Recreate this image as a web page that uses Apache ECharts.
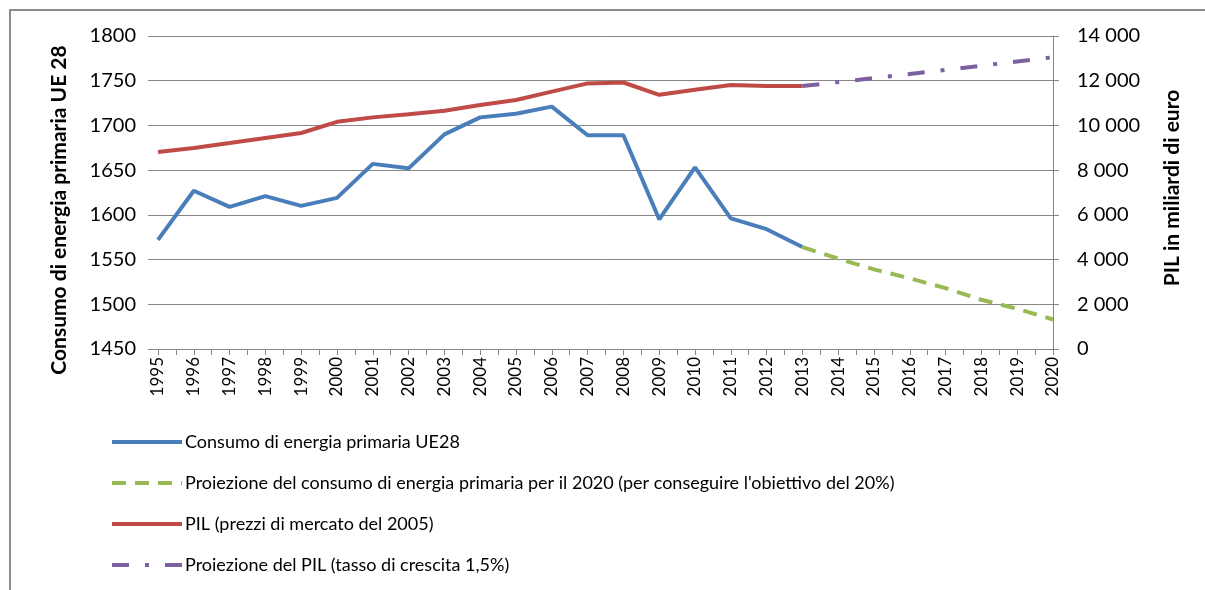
<!DOCTYPE html>
<html>
<head>
<meta charset="utf-8">
<script src="https://cdn.jsdelivr.net/npm/echarts@6/dist/echarts.min.js"></script>
<style>
	html, body { margin: 0; padding: 0; background: #fff; }
	#chart { width: 1205px; height: 590px; }
</style>
</head>
<body>
<div id="chart"></div>
<script>
// anni
var years = ['1995','1996','1997','1998','1999','2000','2001','2002','2003','2004','2005','2006','2007','2008','2009','2010','2011','2012','2013','2014','2015','2016','2017','2018','2019','2020'];

// consumo di energia primaria UE28 (Mtep)
var energia = [1572,1627,1609,1621,1610,1619,1657,1652,1690,1709,1713,1721,1689,1689,1595,1653,1596,1584,1564,null,null,null,null,null,null,null];
// proiezione al 2020
var energiaProj = [null,null,null,null,null,null,null,null,null,null,null,null,null,null,null,null,null,null,1564,1551,1539,1529,1518,1505,1495,1483];

// PIL (miliardi di euro, prezzi 2005)
var pil = [8810,8990,9210,9440,9660,10160,10360,10500,10660,10910,11140,11510,11880,11920,11370,11600,11810,11760,11760,null,null,null,null,null,null,null];
// proiezione PIL 1,5%
var pilProj = [null,null,null,null,null,null,null,null,null,null,null,null,null,null,null,null,null,null,11760,11940,12120,12300,12480,12670,12860,13050];

var leftTicks = [1450, 1800, 50];
var rightTicks = [0, 14000, 2000];

var FONT = 'Lato, "Liberation Sans", sans-serif';

var chart = echarts.init(document.getElementById('chart'));

var option = {
	animation: false,
	backgroundColor: '#fff',
	textStyle: { fontFamily: FONT },
	grid: { left: 158, right: 152, top: 36, bottom: 241 },
	legend: {
		orient: 'vertical',
		left: 105,
		top: 428,
		itemWidth: 70,
		itemHeight: 14,
		itemGap: 23,
		itemStyle: { opacity: 0 },
		lineStyle: { width: 4 },
		textStyle: { fontFamily: FONT, fontSize: 18, color: '#000', padding: [0, 0, 0, -2] },
		data: [
			'Consumo di energia primaria UE28',
			"Proiezione del consumo di energia primaria per il 2020 (per conseguire l'obiettivo del 20%)",
			'PIL (prezzi di mercato del 2005)',
			'Proiezione del PIL (tasso di crescita 1,5%)'
		]
	},
	xAxis: [
		{
			type: 'category',
			data: years,
			boundaryGap: false,
			axisLine: { lineStyle: { color: '#868686' } },
			axisTick: { show: false },
			axisLabel: { rotate: 90, interval: 0, fontSize: 17, color: '#000', margin: 8, fontFamily: FONT }
		},
		{
			// solo tacche ogni mezzo anno, come nell'originale
			type: 'value',
			position: 'bottom',
			min: 1995,
			max: 2020,
			interval: 0.5,
			axisLine: { show: false },
			axisLabel: { show: false },
			splitLine: { show: false },
			axisTick: { show: true, length: 6, lineStyle: { color: '#868686' } }
		}
	],
	yAxis: [
		{
			type: 'value',
			min: leftTicks[0],
			max: leftTicks[1],
			interval: leftTicks[2],
			axisLine: { show: false },
			axisTick: { show: true, length: 10, lineStyle: { color: '#868686' } },
			splitLine: { lineStyle: { color: '#868686', width: 1 } },
			axisLabel: {
				fontSize: 20, color: '#000', margin: 22, fontFamily: FONT,
				formatter: function (v) { return String(v); }
			}
		},
		{
			type: 'value',
			min: rightTicks[0],
			max: rightTicks[1],
			interval: rightTicks[2],
			position: 'right',
			axisLine: { show: true, lineStyle: { color: '#868686' } },
			axisTick: { show: true, length: 6, lineStyle: { color: '#868686' } },
			splitLine: { show: false },
			axisLabel: {
				fontSize: 20, color: '#000', margin: 24, fontFamily: FONT,
				formatter: function (v) {
					return String(v).replace(/\B(?=(\d{3})+(?!\d))/g, ' ');
				}
			}
		}
	],
	graphic: [
		{
			type: 'rect',
			shape: { x: 10, y: 10, width: 1210, height: 600 },
			style: { fill: 'none', stroke: '#8c8c8c', lineWidth: 2 },
			silent: true
		},
		{
			type: 'text',
			x: 59, y: 210,
			rotation: Math.PI / 2,
			style: {
				text: 'Consumo di energia primaria UE 28',
				fontFamily: FONT, fontSize: 21, fontWeight: 'bold', fill: '#000',
				align: 'center', verticalAlign: 'middle'
			}
		},
		{
			type: 'text',
			x: 1172, y: 188,
			rotation: Math.PI / 2,
			style: {
				text: 'PIL in miliardi di euro',
				fontFamily: FONT, fontSize: 21, fontWeight: 'bold', fill: '#000',
				align: 'center', verticalAlign: 'middle'
			}
		}
	],
	series: [
		{
			name: 'Consumo di energia primaria UE28',
			type: 'line',
			yAxisIndex: 0,
			data: energia,
			symbol: 'none',
			lineStyle: { color: '#4a7ebb', width: 4 },
			itemStyle: { color: '#4a7ebb' }
		},
		{
			name: "Proiezione del consumo di energia primaria per il 2020 (per conseguire l'obiettivo del 20%)",
			type: 'line',
			yAxisIndex: 0,
			data: energiaProj,
			symbol: 'none',
			lineStyle: { color: '#98b954', width: 4, type: [14, 9] },
			itemStyle: { color: '#98b954' }
		},
		{
			name: 'PIL (prezzi di mercato del 2005)',
			type: 'line',
			yAxisIndex: 1,
			data: pil,
			symbol: 'none',
			lineStyle: { color: '#be4b48', width: 4 },
			itemStyle: { color: '#be4b48' }
		},
		{
			name: 'Proiezione del PIL (tasso di crescita 1,5%)',
			type: 'line',
			yAxisIndex: 1,
			data: pilProj,
			symbol: 'none',
			lineStyle: { color: '#7d60a0', width: 4, type: [17, 16, 4, 16] },
			itemStyle: { color: '#7d60a0' }
		}
	]
};

chart.setOption(option);
</script>
</body>
</html>
